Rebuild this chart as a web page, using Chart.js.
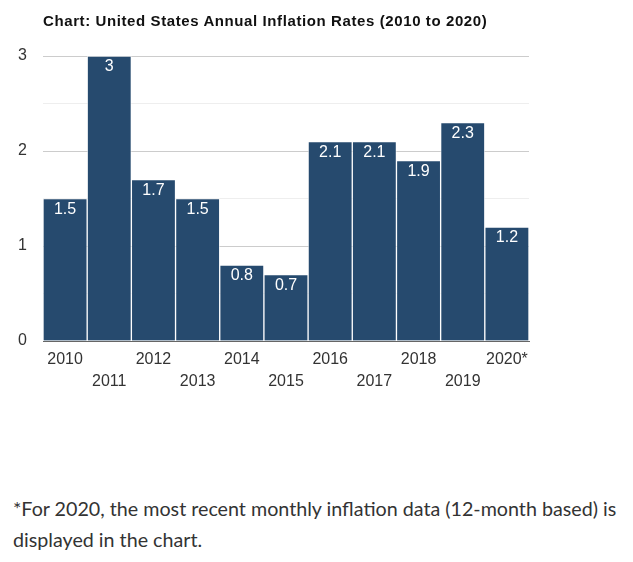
<!DOCTYPE html>
<html>
<head>
<meta charset="utf-8">
<script src="https://cdn.jsdelivr.net/npm/chart.js@4/dist/chart.umd.min.js"></script>
<style>
  body { margin: 0; background: #fff; width: 633px; height: 562px; position: relative; overflow: hidden; }
  #title { position: absolute; left: 43px; top: 12px; font: bold 15px "Liberation Sans", Arial, sans-serif; letter-spacing: 0.6px; color: #111; white-space: nowrap; z-index: 2; }
  #wrap { position: absolute; left: 0; top: 0; width: 633px; height: 400px; }
  #note { position: absolute; left: 13px; top: 493px; width: 615px; font: 19.7px Lato, sans-serif; line-height: 31px; color: #333; }
</style>
</head>
<body>
<div id="title">Chart: United States Annual Inflation Rates (2010 to 2020)</div>
<div id="wrap"><canvas id="inflationChart"></canvas></div>
<div id="note">*For 2020, the most recent monthly inflation data (12-month based) is displayed in the chart.</div>
<script>
// Chart data
const years = ['2010', '2011', '2012', '2013', '2014', '2015', '2016', '2017', '2018', '2019', '2020*'];
const rates = [1.5, 3, 1.7, 1.5, 0.8, 0.7, 2.1, 2.1, 1.9, 2.3, 1.2];
const yTicks = [0, 1, 2, 3];

// staggered labels: even years on first row, odd on second
const xLabels = years.map((y, i) => i % 2 === 0 ? [y, ''] : ['', y]);

// Draw the value inside the top of each bar
const barValues = {
    id: 'barValues',
    afterDatasetsDraw(chart) {
        const ctx = chart.ctx;
        const meta = chart.getDatasetMeta(0);
        ctx.save();
        ctx.fillStyle = '#ffffff';
        ctx.font = '16px "Liberation Sans", Arial, sans-serif';
        ctx.textAlign = 'center';
        ctx.textBaseline = 'middle';
        meta.data.forEach((bar, i) => {
            ctx.fillText(String(rates[i]), bar.x, bar.y + 11);
        });
        ctx.restore();
    }
};

const tickFont = { family: '"Liberation Sans", Arial, sans-serif', size: 16, lineHeight: '22px' };

const ctx = document.getElementById('inflationChart').getContext('2d');
new Chart(ctx, {
    type: 'bar',
    data: {
        labels: xLabels,
        datasets: [{
            data: rates,
            backgroundColor: '#264a6e',
            borderColor: 'rgba(255,255,255,0.55)',
            borderWidth: 1,
            barPercentage: 1,
            categoryPercentage: 1
        }]
    },
    options: {
        responsive: true,
        maintainAspectRatio: false,
        animation: false,
        layout: { padding: { top: 56, right: 104, bottom: 0, left: 0 } },
        plugins: {
            legend: { display: false },
            tooltip: { enabled: false }
        },
        scales: {
            x: {
                grid: { display: false },
                border: { color: '#666666', width: 1 },
                ticks: {
                    color: '#333333',
                    padding: 0,
                    maxRotation: 0,
                    autoSkip: false,
                    font: tickFont
                },
                afterFit(scale) { scale.height = 59; }
            },
            y: {
                min: 0,
                max: 3,
                border: { display: false },
                grid: {
                    drawTicks: false,
                    color: c => Number.isInteger(c.tick.value) ? '#cccccc' : '#eeeeee'
                },
                ticks: {
                    stepSize: 0.5,
                    padding: 16,
                    color: '#333333',
                    font: tickFont,
                    callback: v => yTicks.includes(v) ? String(v) : ''
                },
                afterFit(scale) { scale.width = 43; }
            }
        }
    },
    plugins: [barValues]
});
</script>
</body>
</html>
